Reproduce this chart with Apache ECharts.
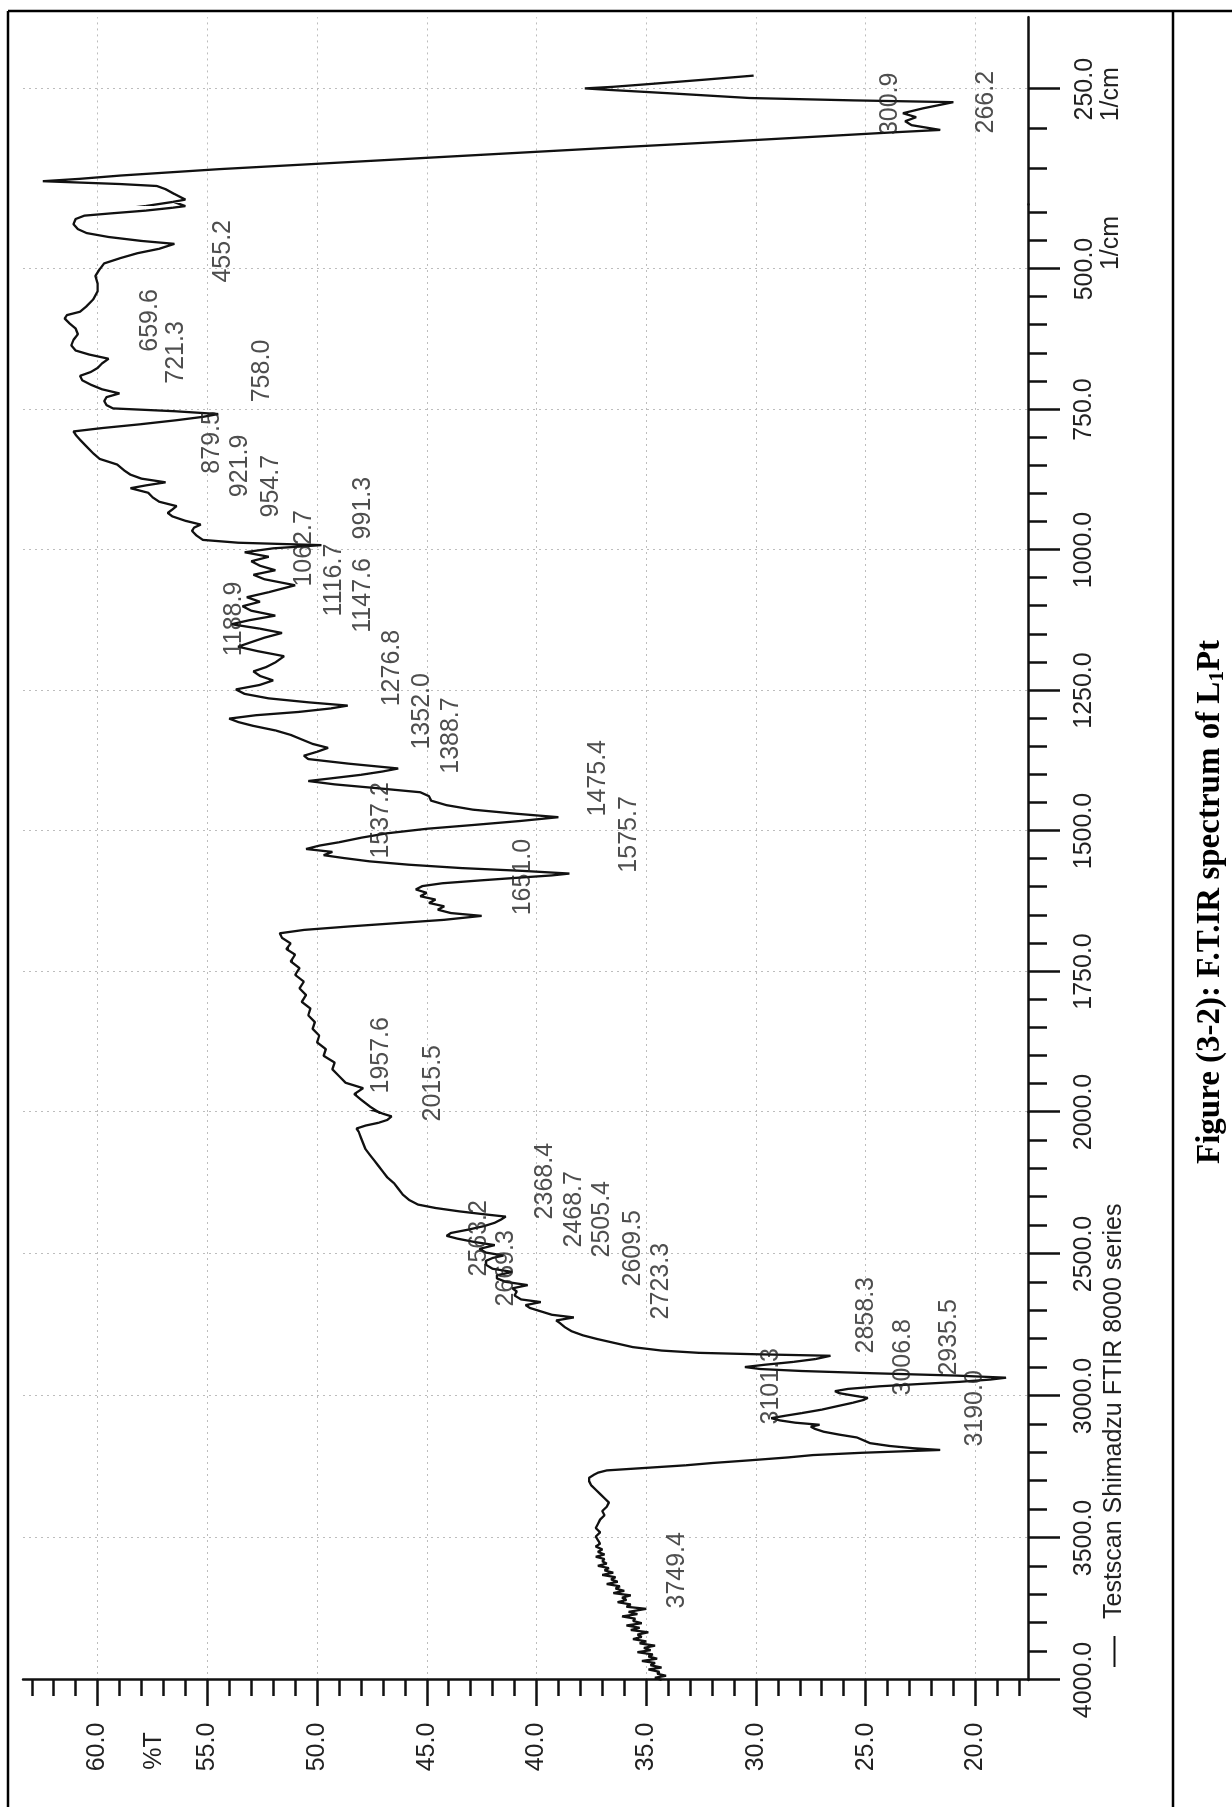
<!DOCTYPE html>
<html>
<head>
<meta charset="utf-8">
<title>F.T.IR spectrum of L1Pt</title>
<script src="https://cdn.jsdelivr.net/npm/echarts@6/dist/echarts.min.js"></script>
<style>
  html, body { margin: 0; padding: 0; background: #fff; overflow: hidden; width: 1232px; height: 1807px; }
  /* The spectrum is laid out landscape and turned a quarter turn, as printed on the page */
  #chart { position: absolute; left: 0; top: 0; width: 1807px; height: 1232px;
           transform-origin: 0 0; transform: translateY(1807px) rotate(-90deg); }
</style>
</head>
<body>
<div id="chart"></div>
<script>
// ---- Spectrum: [wavenumber (1/cm), %T] ----
// 4000 - 2000 1/cm
const spectrumHigh = [
  [4000, 34.3], [3992, 34.6], [3985, 34.1], [3978, 34.5], [3971, 34.4], [3963, 34.9], [3956, 34.3], [3948, 34.8],
  [3940, 34.6], [3933, 35.2], [3925, 34.5], [3917, 34.9], [3910, 34.7], [3902, 35.4], [3895, 34.8], [3887, 35.1],
  [3879, 34.6], [3871, 35.3], [3864, 35.0], [3856, 35.6], [3848, 35.2], [3840, 35.4], [3832, 34.9], [3824, 35.7],
  [3816, 35.3], [3808, 35.9], [3800, 35.2], [3792, 35.6], [3784, 35.5], [3776, 36.1], [3768, 35.4], [3760, 35.8],
  [3749.4, 35.0], [3742, 35.9], [3734, 35.7], [3726, 36.3], [3718, 35.9], [3710, 36.1], [3702, 35.7], [3694, 36.5],
  [3686, 36.0], [3678, 36.4], [3670, 36.2], [3662, 36.8], [3654, 36.3], [3646, 36.6], [3638, 36.4], [3630, 37.0],
  [3622, 36.5], [3614, 36.9], [3606, 36.7], [3598, 37.2], [3590, 36.8], [3582, 37.0], [3574, 36.9], [3566, 37.3],
  [3558, 36.9], [3549, 37.2], [3540, 37.0], [3530, 37.3], [3520, 37.1], [3508, 37.2], [3495, 37.3], [3480, 37.1],
  [3465, 37.3], [3450, 37.2], [3435, 37.1], [3420, 36.9], [3405, 37.0], [3390, 36.8], [3375, 36.7], [3360, 36.9],
  [3345, 37.1], [3330, 37.3], [3315, 37.5], [3300, 37.6], [3288, 37.6], [3278, 37.4], [3270, 37.2], [3262, 36.8],
  [3252, 34.8], [3244, 33.2], [3236, 32.0], [3226, 30.2], [3216, 28.5], [3208, 27.4], [3200, 25.2], [3195, 23.4],
  [3190.0, 21.6], [3184, 22.8], [3176, 23.9], [3166, 24.8], [3156, 25.1], [3146, 25.4], [3136, 26.2], [3126, 26.9],
  [3116, 27.3], [3108, 27.5], [3101.3, 27.1], [3094, 28.2], [3086, 28.9], [3078, 29.3], [3070, 28.7], [3060, 27.9],
  [3048, 27.0], [3036, 26.3], [3024, 25.6], [3014, 25.1], [3006.8, 24.9], [2998, 25.6], [2990, 26.2], [2983, 26.4],
  [2975, 25.8], [2966, 24.4], [2958, 22.6], [2950, 20.7], [2942, 19.3], [2935.5, 18.6], [2928, 20.9], [2920, 24.6],
  [2912, 27.9], [2905, 29.8], [2898, 30.5], [2890, 29.6], [2880, 28.3], [2870, 27.3], [2858.3, 26.6], [2853, 30.0],
  [2848, 32.6], [2840, 34.3], [2828, 35.6], [2814, 36.4], [2800, 37.2], [2786, 37.9], [2772, 38.4], [2758, 38.7],
  [2745, 38.9], [2734, 39.1], [2723.3, 38.3], [2714, 39.3], [2702, 39.8], [2690, 40.3], [2680, 40.5], [2669.3, 39.8],
  [2660, 40.7], [2646, 41.0], [2632, 40.9], [2621, 41.1], [2609.5, 40.4], [2598, 41.4], [2586, 41.8], [2575, 41.8],
  [2563.2, 41.1], [2552, 42.0], [2538, 42.3], [2524, 42.3], [2514, 42.0], [2505.4, 41.5], [2495, 42.3], [2482, 42.6],
  [2468.7, 41.9], [2458, 42.8], [2446, 43.6], [2436, 44.1], [2426, 43.9], [2414, 43.1], [2402, 42.4], [2390, 41.9],
  [2378, 41.6], [2368.4, 41.4], [2360, 42.4], [2350, 43.5], [2338, 44.6], [2326, 45.4], [2310, 45.8], [2290, 46.1],
  [2270, 46.3], [2250, 46.5], [2230, 46.8], [2210, 47.0], [2190, 47.2], [2170, 47.4], [2150, 47.6], [2130, 47.8],
  [2110, 47.9], [2090, 48.0], [2070, 48.1], [2058, 48.2], [2048, 47.8], [2038, 47.2], [2028, 46.8], [2015.5, 46.6],
  [2006, 47.0]
];
// 2000 - 388 1/cm
const spectrumMid = [
  [2000, 47.2], [1990, 47.6], [1978, 48.0], [1968, 48.3], [1957.6, 47.9], [1948, 48.7], [1936, 49.0], [1924, 49.3],
  [1912, 49.2], [1900, 49.7], [1888, 49.6], [1876, 50.0], [1864, 49.9], [1852, 50.2], [1840, 50.1], [1828, 50.4],
  [1816, 50.3], [1804, 50.7], [1792, 50.5], [1780, 50.8], [1768, 50.6], [1756, 51.0], [1744, 50.8], [1732, 51.2],
  [1720, 51.0], [1710, 51.4], [1700, 51.2], [1690, 51.6], [1682, 51.7], [1676, 50.6], [1670, 48.6], [1664, 46.4],
  [1658, 44.2], [1651.0, 42.5], [1646, 43.9], [1640, 44.5], [1634, 44.2], [1628, 44.9], [1622, 44.6], [1616, 45.3],
  [1610, 45.0], [1604, 45.5], [1598, 45.2], [1593, 44.3], [1588, 42.6], [1583, 40.8], [1579, 39.3], [1575.7, 38.5],
  [1571, 40.6], [1566, 43.4], [1560, 45.8], [1554, 47.6], [1548, 48.8], [1543, 49.7], [1537.2, 49.3], [1532, 50.5],
  [1526, 49.9], [1520, 49.0], [1512, 48.0], [1504, 46.8], [1496, 45.0], [1489, 42.8], [1482, 40.7], [1475.4, 39.0],
  [1469, 41.0], [1462, 42.9], [1454, 44.1], [1446, 44.8], [1438, 44.9], [1431, 45.3], [1424, 47.2], [1417, 49.2],
  [1411, 50.4], [1406, 49.3], [1400, 48.0], [1394, 47.0], [1388.7, 46.3], [1380, 48.6], [1372, 50.4], [1366, 50.6],
  [1359, 50.0], [1352.0, 49.5], [1345, 50.2], [1337, 50.7], [1329, 51.2], [1321, 51.9], [1313, 52.9], [1306, 53.6],
  [1300, 54.0], [1294, 52.8], [1288, 50.8], [1282, 49.4], [1276.8, 48.6], [1271, 50.4], [1264, 52.2], [1256, 53.3],
  [1248, 53.7], [1240, 52.6], [1232, 52.0], [1224, 52.6], [1216, 52.9], [1208, 52.3], [1200, 51.9], [1188.9, 51.5],
  [1180, 52.7], [1172, 53.6], [1164, 53.0], [1156, 52.4], [1147.6, 51.6], [1140, 52.6], [1132, 53.9], [1125, 53.1],
  [1116.7, 51.9], [1108, 53.0], [1100, 53.4], [1092, 52.6], [1084, 53.2], [1075, 52.2], [1062.7, 51.0], [1052, 52.4],
  [1044, 52.9], [1036, 51.9], [1028, 52.6], [1020, 53.0], [1012, 52.2], [1004, 53.3], [997, 52.0], [991.3, 49.8],
  [987, 53.6], [982, 55.2], [974, 55.5], [966, 55.7], [960, 55.6], [954.7, 55.3], [948, 56.0], [940, 56.6],
  [934, 56.8], [928, 56.6], [921.9, 56.4], [914, 57.2], [906, 57.5], [898, 57.7], [890, 58.5], [885, 57.8],
  [879.5, 56.9], [873, 58.0], [866, 58.5], [858, 58.8], [848, 59.1], [838, 59.9], [828, 60.2], [816, 60.5],
  [804, 60.8], [795, 61.0], [789, 61.1], [783, 59.8], [776, 58.0], [769, 56.4], [763, 55.2], [758.0, 54.5],
  [753, 56.5], [748, 59.3], [742, 59.6], [735, 59.7], [728, 59.6], [721.3, 59.0], [714, 59.8], [706, 60.3],
  [698, 60.7], [690, 60.8], [683, 60.3], [676, 60.0], [668, 59.8], [659.6, 59.5], [652, 60.4], [645, 61.0],
  [636, 61.2], [626, 61.1], [616, 60.9], [606, 61.0], [596, 61.3], [588, 61.5], [582, 61.4], [576, 60.8],
  [566, 60.5], [554, 60.2], [540, 60.0], [526, 60.0], [512, 60.1], [500, 59.9], [490, 59.7], [481, 59.0],
  [472, 58.2], [464, 57.2], [455.2, 56.5], [450, 58.0], [443, 59.5], [436, 60.5], [429, 60.9], [420, 61.1],
  [411, 61.0], [405, 60.6], [401, 59.4], [396, 57.8], [391, 56.6], [388, 56.0]
];
// below 388 1/cm
const spectrumLow = [
  [381, 56.5], [375, 56.9], [371, 57.3], [368.5, 59.0], [366.5, 61.0], [365, 62.5], [362, 60.8], [358, 59.0],
  [350, 54.5], [341, 48.5], [332, 42.5], [323, 36.5], [315, 31.0], [308, 26.4], [304, 23.8], [300.9, 21.6],
  [295, 22.9], [290, 23.2], [285, 22.7], [280, 23.3], [274, 22.4], [266.2, 21.0], [264, 25.5], [261, 30.3],
  [255, 34.0], [251, 36.6], [249, 37.8], [247, 36.5], [243, 34.6], [238, 32.3], [233, 30.1]
];

// Peak table printed by the instrument (1/cm)
const peakValues = [
  3749.4, 3190.0, 3101.3, 3006.8, 2935.5, 2858.3, 2723.3, 2669.3, 2609.5, 2563.2, 2505.4, 2468.7,
  2368.4, 2015.5, 1957.6, 1651.0, 1575.7, 1537.2, 1475.4, 1388.7, 1352.0, 1276.8, 1188.9, 1147.6,
  1116.7, 1062.7, 991.3, 954.7, 921.9, 879.5, 758.0, 721.3, 659.6, 455.2, 300.9, 266.2
];
// Where each peak label is printed: [wavenumber where the text begins, %T of its column]
const peakLabelAnchor = [
  [3750, 33.6], [3180, 20.0], [3102, 29.3], [3000, 23.3], [2930, 21.2], [2852, 25.0], [2732, 34.3], [2687, 41.4],
  [2616, 35.6], [2581, 42.6], [2514, 37.0], [2479, 38.3], [2380, 39.6], [2035, 44.7], [1968, 47.1], [1651, 40.6],
  [1575, 35.8], [1550, 47.1], [1475, 37.2], [1399, 43.9], [1356, 45.2], [1279, 46.6], [1190, 53.8], [1148, 47.9],
  [1119, 49.2], [1066, 50.6], [982, 47.9], [943, 52.1], [907, 53.5], [865, 54.8], [738, 52.5], [705, 56.4],
  [648, 57.6], [525, 54.3], [308, 23.9], [306, 19.5]
];

// Axis ticks
const pctMajorTicks = [20, 25, 30, 35, 40, 45, 50, 55, 60];
const pctMinorTicks = [18, 19, 21, 22, 23, 24, 26, 27, 28, 29, 31, 32, 33, 34, 36, 37, 38, 39, 41, 42, 43, 44,
                       46, 47, 48, 49, 51, 52, 53, 54, 56, 57, 58, 59, 61, 62, 63];
const wnMajorMid = [500, 750, 1000, 1250, 1500, 1750];
const wnMinorMid = [400, 450, 550, 600, 650, 700, 800, 850, 900, 950, 1050, 1100, 1150, 1200, 1300, 1350,
                    1400, 1450, 1550, 1600, 1650, 1700, 1800, 1850, 1900, 1950];
const wnMajorLow = [250];
const wnMinorLow = [300, 350];

// ---- Layout ----
const FONT = "'Liberation Sans', Arial, sans-serif";
const SERIF = "'Liberation Serif', 'Times New Roman', serif";
const INK = '#111';
const TEXT = '#222';
const SERIES_NAME = 'Testscan Shimadzu FTIR 8000 series';
// The wavenumber scale is expanded below 2000 1/cm and again in the far-IR part
const segments = [
  { min: 2000, max: 4000, left: 127, width: 568 },
  { min: 385, max: 2000, left: 695, width: 907.6 },
  { min: 160, max: 394, left: 1602.6, width: 187.2 }
];
const PLOT_TOP = 23, PLOT_HEIGHT = 1005;
const T_MIN = 17.6, T_MAX = 63.4;

const spectrum = spectrumHigh.concat(spectrumMid, spectrumLow);

const grids = [];
segments.forEach(s => grids.push({ left: s.left, width: s.width, top: PLOT_TOP, height: PLOT_HEIGHT,
  containLabel: false, outerBoundsMode: 'none' }));
// overlay grids carry the short (minor) ticks
segments.forEach(s => grids.push({ left: s.left, width: s.width, top: PLOT_TOP, height: PLOT_HEIGHT,
  containLabel: false, outerBoundsMode: 'none' }));

const lineStyleAxis = { color: INK, width: 2.5 };
const gridLine = { show: true, lineStyle: { color: '#bdbdbd', width: 1, type: [2, 4] } };
const labelBase = { margin: 44, fontSize: 25, color: TEXT, fontFamily: FONT };
const cmRich = {
  a: { fontSize: 25, lineHeight: 26, color: TEXT, fontFamily: FONT },
  u: { fontSize: 25, lineHeight: 26, color: TEXT, fontFamily: FONT, padding: [0, 0, 0, 52] },
  v: { fontSize: 25, lineHeight: 26, color: TEXT, fontFamily: FONT, padding: [0, 10, 0, 0] }
};

const xAxes = [
  { gridIndex: 0, type: 'value', min: 2000, max: 4000, interval: 500, inverse: true, position: 'bottom',
    axisLine: { show: true, onZero: false, lineStyle: lineStyleAxis },
    axisTick: { show: true, length: 32, lineStyle: lineStyleAxis },
    minorTick: { show: true, splitNumber: 5, length: 19, lineStyle: lineStyleAxis },
    axisLabel: Object.assign({}, labelBase, { showMinLabel: true, showMaxLabel: true,
      formatter: v => v.toFixed(1) }),
    splitLine: gridLine },
  { gridIndex: 1, type: 'value', min: 385, max: 2000, inverse: true, position: 'bottom',
    axisLine: { show: true, onZero: false, lineStyle: lineStyleAxis },
    axisTick: { show: true, length: 32, lineStyle: lineStyleAxis, customValues: wnMajorMid },
    axisLabel: Object.assign({}, labelBase, { customValues: wnMajorMid, rich: cmRich,
      formatter: v => v === 500 ? '{a|500.0}\n{u|1/cm}' : v.toFixed(1) }),
    splitLine: gridLine },
  { gridIndex: 2, type: 'value', min: 160, max: 394, inverse: true, position: 'bottom',
    axisLine: { show: true, onZero: false, lineStyle: lineStyleAxis },
    axisTick: { show: true, length: 32, lineStyle: lineStyleAxis, customValues: wnMajorLow },
    axisLabel: Object.assign({}, labelBase, { customValues: wnMajorLow, rich: cmRich,
      formatter: v => '{a|' + v.toFixed(1) + '}\n{v|1/cm}' }),
    splitLine: gridLine },
  { gridIndex: 3, type: 'value', min: 2000, max: 4000, inverse: true, show: false },
  { gridIndex: 4, type: 'value', min: 385, max: 2000, inverse: true, position: 'bottom',
    axisLine: { show: false, onZero: false },
    axisTick: { show: true, length: 19, lineStyle: lineStyleAxis, customValues: wnMinorMid },
    axisLabel: { show: false }, splitLine: { show: false } },
  { gridIndex: 5, type: 'value', min: 160, max: 394, inverse: true, position: 'bottom',
    axisLine: { show: false, onZero: false },
    axisTick: { show: true, length: 19, lineStyle: lineStyleAxis, customValues: wnMinorLow },
    axisLabel: { show: false }, splitLine: { show: false } }
];

const yAxes = [
  { gridIndex: 0, type: 'value', min: T_MIN, max: T_MAX, position: 'left',
    axisLine: { show: true, onZero: false, lineStyle: lineStyleAxis },
    axisTick: { show: true, length: 26, lineStyle: lineStyleAxis, customValues: pctMajorTicks },
    axisLabel: { customValues: pctMajorTicks, margin: 67, align: 'center', fontSize: 25, color: TEXT,
      fontFamily: FONT, formatter: v => v.toFixed(1) },
    splitLine: gridLine,
    name: '%T', nameLocation: 'end', nameGap: -131, nameMoveOverlap: false,
    nameTextStyle: { fontSize: 25, color: TEXT, fontFamily: FONT, align: 'center', verticalAlign: 'middle',
      padding: [0, 142, 0, 0] } },
  { gridIndex: 1, type: 'value', min: T_MIN, max: T_MAX,
    axisLine: { show: false, onZero: false },
    axisTick: { show: false, customValues: pctMajorTicks },
    axisLabel: { show: false }, splitLine: gridLine },
  { gridIndex: 2, type: 'value', min: T_MIN, max: T_MAX,
    axisLine: { show: false, onZero: false },
    axisTick: { show: false, customValues: pctMajorTicks },
    axisLabel: { show: false }, splitLine: gridLine },
  { gridIndex: 3, type: 'value', min: T_MIN, max: T_MAX, position: 'left',
    axisLine: { show: false, onZero: false },
    axisTick: { show: true, length: 16, lineStyle: lineStyleAxis, customValues: pctMinorTicks },
    axisLabel: { show: false }, splitLine: { show: false } },
  { gridIndex: 4, type: 'value', min: T_MIN, max: T_MAX, show: false },
  { gridIndex: 5, type: 'value', min: T_MIN, max: T_MAX, show: false }
];

// one trace per scale segment; each is clipped to its own part of the axis
const series = segments.map((s, i) => ({
  type: 'line', name: SERIES_NAME, xAxisIndex: i, yAxisIndex: i, data: spectrum,
  showSymbol: false, symbol: 'none', clip: true, silent: true,
  lineStyle: { color: INK, width: 2.3 }, itemStyle: { color: INK }, z: 3
}));

const labelItems = peakValues.map((p, i) => ({ name: p.toFixed(1), value: peakLabelAnchor[i] }));
const segmentOf = w => (w >= 2000 ? 0 : (w >= 385 ? 1 : 2));
segments.forEach((s, i) => {
  series.push({
    type: 'scatter', name: 'peak labels', xAxisIndex: i, yAxisIndex: i, silent: true, z: 4,
    data: labelItems.filter(it => segmentOf(it.value[0]) === i),
    symbolSize: 1, itemStyle: { color: 'rgba(0,0,0,0)' },
    label: { show: true, position: 'right', distance: 0, formatter: p => p.name,
      fontSize: 25, color: TEXT, fontFamily: FONT }
  });
});

const chart = echarts.init(document.getElementById('chart'), null, { renderer: 'canvas' });
chart.setOption({
  animation: false,
  backgroundColor: '#fff',
  textStyle: { fontFamily: FONT },
  grid: grids,
  xAxis: xAxes,
  yAxis: yAxes,
  legend: {
    data: [SERIES_NAME], left: 135, top: 1097, orient: 'horizontal', selectedMode: false,
    icon: 'rect', itemWidth: 31, itemHeight: 2, itemStyle: { color: INK },
    textStyle: { fontSize: 25, color: TEXT, fontFamily: FONT, padding: [0, 0, 0, 12] }
  },
  graphic: [
    { type: 'line', silent: true, shape: { x1: 0, y1: 8, x2: 1796, y2: 8 }, style: { stroke: '#000', lineWidth: 2.5 } },
    { type: 'line', silent: true, shape: { x1: 1796, y1: 8, x2: 1796, y2: 1232 }, style: { stroke: '#000', lineWidth: 2.5 } },
    { type: 'line', silent: true, shape: { x1: 0, y1: 1173, x2: 1796, y2: 1173 }, style: { stroke: '#000', lineWidth: 2.5 } },
    { type: 'text', silent: true, x: 905, y: 1210,
      style: { text: 'Figure (3-2): F.T.IR spectrum of L{sub|1}Pt', fontFamily: SERIF, fontWeight: 'bold',
        fontSize: 33, fill: '#000', align: 'center', verticalAlign: 'middle',
        rich: { sub: { fontFamily: SERIF, fontWeight: 'bold', fontSize: 21, fill: '#000', padding: [15, 0, 0, 0] } } } }
  ],
  series: series
});
</script>
</body>
</html>
